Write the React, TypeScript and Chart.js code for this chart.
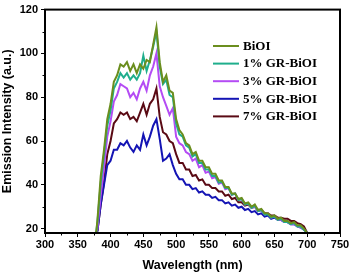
import React, { useEffect, useRef } from "react";
import { Chart, registerables } from "chart.js";

Chart.register(...registerables);

const wavelengths = [378,380,385,390,395,400,405,410,415,420,425,430,435,440,445,450,455,460,465,470,475,480,485,490,495,500,505,510,515,520,525,530,535,540,545,550,555,560,565,570,575,580,585,590,595,600,605,610,615,620,625,630,635,640,645,650,655,660,665,670,675,680,685,690,695,700];

const biOI = [18,24,44,56,70,77,87,90,95,94,96,92,95,91,95,93,97,96,104,112,96,87,90,83,82,
  70,65,63,59,58,54,55,51,51,48,48,45,45,42,42,39,39,36,36,33.5,34,31.5,32,30,31,28.5,29,27,27,25.5,26,24.5,25,23.5,23.5,22.5,23,21.5,21.5,20,18];
const gr1 = [18,23,41,54,67,74,84,87,91,89,91,88,90,88,91,99,92,97,103,110,94,86,88,81,80,
  68,63,62,58,57,53,54,50,50,47,47,44,44,41,41.5,38.5,38.5,35.5,36,33,33.5,31,31.5,29.5,30.5,28,28.5,26.5,26.5,25,25.5,24,24.5,23,23,22,22.5,21,21,19.5,18];
const gr3 = [18,20,35,48,62,69,78,81,86,85,84,80,82,79,84,87,83,90,94,100,85,80,76,72,75,
  62,59,58,55,54,51,52,48,49,45.5,46,43,43.5,40.5,41,38,38.5,35.5,36,33,33.5,31,31.5,29.5,30,28,28.5,26.5,27,25,25.5,24,24,23,23,22,22,21,20.5,19.5,18];
const gr5 = [18,19,31,40,49,51,56,56,59,58,60,57,55,58,56,63,58,62,67,70,61,51,52,54,49,
  45,42.5,42.5,40,40,38,38.5,36.5,37,35.5,35.5,34,34.5,33,33,31.5,32,30.5,31,29.5,30,28.5,29,27.5,28,26.5,27,25.5,26,24.5,25,24,24,23,23,22,22,21,20.5,19.5,18];
const gr7 = [18,19,31,41,54,60,68,70,73,72,73,70,71,69,73,77,72,77,79,84,71,64,63,60,59,
  54,50,50,47,47,44,44.5,42,42.5,40,40,38.5,38.5,37,37,35,35.5,33.5,34,32,32,30.5,31,29.5,30,28,28.5,27,27,26,26,25,25,24.5,24.5,23.5,23.5,22.5,22,21,18];

const seriesLabels = ["BiOI", "1% GR-BiOI", "3% GR-BiOI", "5% GR-BiOI", "7% GR-BiOI"];
const seriesValues = [biOI, gr1, gr3, gr5, gr7];
const seriesColors = ["#6b8e1e", "#1fae8c", "#b44cf4", "#1414b4", "#5a0a14"];

const xTicks = [300,350,400,450,500,550,600,650,700,750];
const yTicks = [20,40,60,80,100,120];

export default function App() {
  const ref = useRef<HTMLCanvasElement>(null);
  useEffect(() => {
    const canvas = ref.current;
    if (!canvas) return;
    const framePlugin = {
      id: "frame",
      afterDatasetsDraw(chart: any) {
        const { ctx, chartArea } = chart;
        const { left, right, top, bottom } = chartArea;
        ctx.save();
        ctx.strokeStyle = "#000";
        ctx.lineWidth = 2;
        ctx.strokeRect(left, top, right - left, bottom - top);
        const xs = chart.scales.x;
        const ys = chart.scales.y;
        ctx.lineWidth = 1;
        ctx.beginPath();
        for (let v = 325; v < 750; v += 50) {
          const px = Math.round(xs.getPixelForValue(v)) + 0.5;
          ctx.moveTo(px, bottom);
          ctx.lineTo(px, bottom + 2.5);
        }
        for (let v = 30; v < 120; v += 20) {
          const py = Math.round(ys.getPixelForValue(v)) + 0.5;
          ctx.moveTo(left, py);
          ctx.lineTo(left - 2.5, py);
        }
        ctx.stroke();
        const lx0 = 213, lx1 = 239, tx = 243;
        const y0 = 46, dy = 17.6;
        ctx.font = "bold 13px 'Liberation Serif', 'Times New Roman', serif";
        ctx.textBaseline = "middle";
        ctx.textAlign = "left";
        seriesLabels.forEach((lab, i) => {
          const y = y0 + i * dy;
          ctx.strokeStyle = seriesColors[i];
          ctx.lineWidth = 2;
          ctx.beginPath();
          ctx.moveTo(lx0, y);
          ctx.lineTo(lx1, y);
          ctx.stroke();
          ctx.fillStyle = "#000";
          ctx.fillText(lab, tx, y + 0.5);
        });
        ctx.restore();
      },
    };
    const chart = new Chart(canvas, {
      type: "line",
      data: {
        datasets: seriesLabels.map((lab, i) => ({
          label: lab,
          data: wavelengths.map((w, j) => ({ x: w, y: seriesValues[i][j] })),
          borderColor: seriesColors[i],
          backgroundColor: seriesColors[i],
          borderWidth: 2,
          pointRadius: 0,
          tension: 0,
          fill: false,
        })),
      },
      options: {
        responsive: false,
        animation: false,
        maintainAspectRatio: false,
        layout: { padding: { left: 0, right: 12, top: 7, bottom: 0 } },
        plugins: { legend: { display: false }, tooltip: { enabled: false } },
        scales: {
          x: {
            type: "linear",
            min: 300,
            max: 750,
            afterBuildTicks: (s: any) => { s.ticks = xTicks.map((v) => ({ value: v })); },
            afterFit: (s: any) => { s.height = 40; },
            grid: { drawOnChartArea: false, color: "#000", tickLength: 4, tickWidth: 1 },
            border: { display: false },
            ticks: {
              color: "#000",
              font: { family: "'Liberation Sans', Arial, sans-serif", size: 11, weight: "bold" },
              padding: 1,
              maxRotation: 0,
              autoSkip: false,
            },
            title: {
              display: true,
              text: "Wavelength (nm)",
              color: "#000",
              font: { family: "'Liberation Sans', Arial, sans-serif", size: 12.5, weight: "bold" },
              padding: { top: 2, bottom: 0 },
            },
          },
          y: {
            type: "linear",
            min: 18,
            max: 120,
            afterBuildTicks: (s: any) => { s.ticks = yTicks.map((v) => ({ value: v })); },
            afterFit: (s: any) => { s.width = 45; },
            grid: { drawOnChartArea: false, color: "#000", tickLength: 4, tickWidth: 1 },
            border: { display: false },
            ticks: {
              color: "#000",
              font: { family: "'Liberation Sans', Arial, sans-serif", size: 11, weight: "bold" },
              padding: 3,
              autoSkip: false,
            },
            title: {
              display: true,
              text: "Emission Intensity (a.u.)",
              color: "#000",
              font: { family: "'Liberation Sans', Arial, sans-serif", size: 12.5, weight: "bold" },
              padding: { top: 0, bottom: 2 },
            },
          },
        },
      },
      plugins: [framePlugin],
    } as any);
    return () => chart.destroy();
  }, []);
  return (
    <div style={{ position: "fixed", left: 0, top: 0, width: 352, height: 273, background: "#fff" }}>
      <canvas ref={ref} width={352} height={273} />
    </div>
  );
}
